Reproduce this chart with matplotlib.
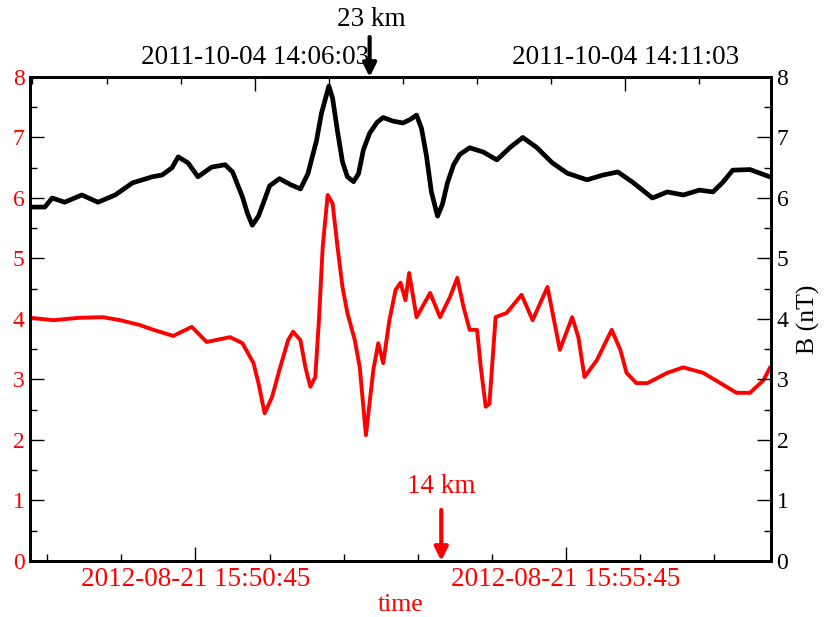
import numpy as np
import matplotlib
matplotlib.use('Agg')
import matplotlib.pyplot as plt
from matplotlib.ticker import FixedLocator, MultipleLocator

plt.rcParams['font.family'] = ['Liberation Serif', 'DejaVu Serif']

# seconds from start of the window
t_black = [0, 12, 18, 28, 42, 55, 69, 83, 99, 107, 115, 120, 128, 136, 147, 158, 164, 172, 176,
           180, 185, 189, 194, 202, 211, 219, 225, 232, 236, 240, 242, 245, 249, 253, 257, 262,
           266, 270, 275, 281, 286, 294, 302, 308, 313, 317, 321, 325, 330, 334, 338, 343, 348,
           356, 367, 378, 389, 399, 410, 423, 435, 451, 464, 476, 488, 504, 516, 529, 542, 553,
           561, 569, 583, 599]
b_black = [5.85, 5.85, 6.0, 5.93, 6.05, 5.93, 6.05, 6.25, 6.35, 6.38, 6.5, 6.68, 6.58, 6.35, 6.51,
           6.55, 6.43, 6.02, 5.75, 5.55, 5.7, 5.92, 6.2, 6.32, 6.22, 6.15, 6.4, 6.95, 7.4, 7.7,
           7.85, 7.65, 7.1, 6.6, 6.35, 6.27, 6.4, 6.8, 7.07, 7.25, 7.33, 7.27, 7.24, 7.3, 7.37,
           7.15, 6.7, 6.1, 5.7, 5.9, 6.25, 6.55, 6.72, 6.83, 6.76, 6.63, 6.84, 7.0, 6.84, 6.58,
           6.41, 6.3, 6.38, 6.43, 6.26, 6.0, 6.1, 6.05, 6.13, 6.1, 6.26, 6.46, 6.47, 6.35]

t_red = [0, 19, 40, 59, 73, 89, 100, 116, 131, 143, 162, 172, 181, 185, 190, 196, 202, 209, 213,
         219, 223, 227, 231, 234, 237, 241, 245, 249, 253, 257, 263, 267, 272, 278, 282, 286, 291,
         296, 300, 304, 307, 313, 324, 332, 340, 346, 351, 356, 362, 365, 369, 372, 377, 386, 398,
         407, 419, 427, 429, 439, 444, 449, 459, 471, 478, 483, 491, 500, 516, 529, 545, 559, 572,
         583, 594, 599]
b_red = [4.02, 3.98, 4.02, 4.03, 3.98, 3.9, 3.82, 3.72, 3.87, 3.62, 3.7, 3.6, 3.27, 2.94, 2.44,
         2.71, 3.16, 3.65, 3.79, 3.65, 3.2, 2.88, 3.04, 4.0, 5.19, 6.05, 5.91, 5.19, 4.53, 4.1,
         3.65, 3.2, 2.08, 3.16, 3.6, 3.27, 3.98, 4.48, 4.6, 4.31, 4.76, 4.03, 4.43, 4.03, 4.36,
         4.68, 4.2, 3.82, 3.82, 3.2, 2.55, 2.6, 4.03, 4.1, 4.4, 3.98, 4.53, 3.7, 3.49, 4.03, 3.7,
         3.04, 3.32, 3.82, 3.49, 3.11, 2.94, 2.94, 3.11, 3.2, 3.11, 2.94, 2.78, 2.78, 2.99, 3.19]

bottom_ticks = [134, 434]
bottom_labels = ['2012-08-21 15:50:45', '2012-08-21 15:55:45']
top_ticks = [182, 482]
top_labels = ['2011-10-04 14:06:03', '2011-10-04 14:11:03']
arrow_top_t, arrow_top_txt = 275, '23 km'
arrow_bot_t, arrow_bot_txt = 333, '14 km'

fig = plt.figure(figsize=(8.24, 6.17), dpi=100)
ax = fig.add_axes([0.0364, 0.0908, 0.8993, 0.7844])

ax.plot(t_black, b_black, color='black', lw=3.4, solid_joinstyle='round')
ax.plot(t_red, b_red, color='red', lw=2.8, solid_joinstyle='round')

ax.set_xlim(0, 600)
ax.set_ylim(0, 8)

for s in ax.spines.values():
    s.set_linewidth(1.8)

ax.xaxis.set_major_locator(FixedLocator(bottom_ticks))
ax.xaxis.set_minor_locator(FixedLocator(list(range(14, 600, 60))))
ax.set_xticklabels(bottom_labels, color='red', fontsize=19.5)
ax.yaxis.set_major_locator(MultipleLocator(1))
ax.yaxis.set_minor_locator(MultipleLocator(0.5))
ax.tick_params(axis='y', labelcolor='red', labelsize=17)
ax.tick_params(which='major', direction='in', length=10, width=1, pad=4)
ax.tick_params(which='minor', direction='in', length=5, width=1)
ax.set_xlabel('time', color='red', fontsize=18.5, labelpad=2)

axr = ax.twinx()
axr.set_ylim(0, 8)
axr.yaxis.set_major_locator(MultipleLocator(1))
axr.yaxis.set_minor_locator(MultipleLocator(0.5))
axr.tick_params(axis='y', labelsize=17)
axr.tick_params(which='major', direction='in', length=10, width=1, pad=4)
axr.tick_params(which='minor', direction='in', length=5, width=1)
axr.set_ylabel('B (nT)', fontsize=18.5, labelpad=6)

axt = ax.twiny()
axt.set_xlim(0, 600)
axt.xaxis.set_major_locator(FixedLocator(top_ticks))
axt.xaxis.set_minor_locator(FixedLocator(list(range(2, 600, 60))))
axt.set_xticklabels(top_labels, fontsize=19.5)
axt.tick_params(which='major', direction='in', length=10, width=1, pad=5)
axt.tick_params(which='minor', direction='in', length=5, width=1)

for a in (axr, axt):
    for s in a.spines.values():
        s.set_linewidth(1.8)

# markers for the distances
ax.annotate('', xy=(arrow_top_t, 1.0), xycoords=('data', 'axes fraction'),
            xytext=(0, 40), textcoords='offset pixels',
            arrowprops=dict(arrowstyle='-|>', color='black', lw=3, mutation_scale=20,
                            shrinkA=0, shrinkB=0), annotation_clip=False)
ax.annotate(arrow_top_txt, xy=(arrow_top_t, 1.0), xycoords=('data', 'axes fraction'),
            xytext=(2, 58), textcoords='offset pixels', ha='center', va='center',
            fontsize=19.5, annotation_clip=False)
ax.annotate('', xy=(arrow_bot_t, 0.0), xycoords=('data', 'axes fraction'),
            xytext=(0, 51), textcoords='offset pixels',
            arrowprops=dict(arrowstyle='-|>', color='red', lw=3, mutation_scale=20,
                            shrinkA=0, shrinkB=0), annotation_clip=False)
ax.annotate(arrow_bot_txt, xy=(arrow_bot_t, 0.0), xycoords=('data', 'axes fraction'),
            xytext=(0, 74), textcoords='offset pixels', ha='center', va='center',
            fontsize=19.5, color='red', annotation_clip=False)

fig.savefig('out.png', dpi=100)
